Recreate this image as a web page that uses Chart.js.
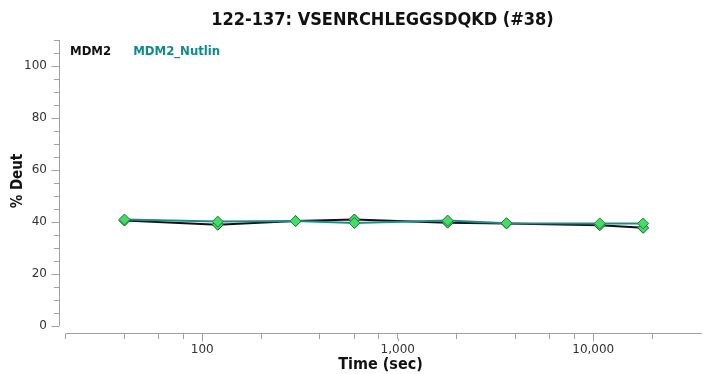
<!DOCTYPE html>
<html>
<head>
<meta charset="utf-8">
<script src="https://cdn.jsdelivr.net/npm/chart.js@4.4.0/dist/chart.umd.min.js"></script>
<style>
  body { margin: 0; background: #fff; }
</style>
</head>
<body>
<canvas id="myChart" width="710" height="374"></canvas>
<script>
// Uptake plot data

const chartTitle = "122-137: VSENRCHLEGGSDQKD (#38)";
const seriesNames = ["MDM2", "MDM2_Nutlin"];
const timePoints = [40, 120, 300, 600, 1800, 3600, 10800, 18000];
const mdm2 = [40.6, 39.0, 40.4, 41.0, 39.8, 39.5, 38.8, 37.8];
const mdm2Nutlin = [41.0, 40.2, 40.4, 39.7, 40.6, 39.6, 39.5, 39.5];

const xTickValues = [20, 40, 60, 80, 100, 200, 400, 600, 800, 1000, 2000, 4000, 6000, 8000, 10000, 20000];
const xLabelValues = [100, 1000, 10000];
const yTickValues = [0, 5, 10, 15, 20, 25, 30, 35, 40, 45, 50, 55, 60, 65, 70, 75, 80, 85, 90, 95, 100, 105, 110];
const yLabelValues = [0, 20, 40, 60, 80, 100];

const boldFont = "'DejaVu Sans Condensed', 'DejaVu Sans', sans-serif";
const axisGray = "#a0a0a0";

const toPoints = (ys) => timePoints.map((t, i) => ({ x: t, y: ys[i] }));

//title, legend, axis lines and longer major ticks
const decorations = {
  id: "decorations",
  beforeDatasetsDraw(chart) {
    const ctx = chart.ctx;
    const area = chart.chartArea;
    const x = chart.scales.x;
    const y = chart.scales.y;
    ctx.save();
    ctx.strokeStyle = axisGray;
    ctx.lineWidth = 1;
    ctx.beginPath();
    const yx = Math.round(area.left) + 0.5;
    ctx.moveTo(yx, y.getPixelForValue(0));
    ctx.lineTo(yx, y.getPixelForValue(110));
    const xy = Math.round(area.bottom) - 0.5;
    ctx.moveTo(x.getPixelForValue(20), xy);
    ctx.lineTo(area.right, xy);
    // major tick extensions
    yLabelValues.forEach((v) => {
      const py = Math.round(y.getPixelForValue(v)) + 0.5;
      ctx.moveTo(yx - 5, py);
      ctx.lineTo(yx - 8, py);
    });
    xLabelValues.forEach((v) => {
      const px = Math.round(x.getPixelForValue(v)) + 0.5;
      ctx.moveTo(px, xy + 5);
      ctx.lineTo(px, xy + 8);
    });
    ctx.stroke();
    ctx.restore();
  },
  afterDraw(chart) {
    const ctx = chart.ctx;
    const area = chart.chartArea;
    ctx.save();
    // title
    ctx.fillStyle = "#111";
    ctx.font = "bold 18px " + boldFont;
    ctx.textAlign = "center";
    ctx.textBaseline = "middle";
    ctx.fillText(chartTitle, (area.left + area.right) / 2 + 2, 20);

    // legend
    ctx.font = "bold 13px " + boldFont;
    ctx.textAlign = "left";
    let lx = area.left + 11;
    chart.data.datasets.forEach((ds) => {
      ctx.fillStyle = ds.legendColor;
      ctx.fillText(ds.label, lx, 52);
      lx += ctx.measureText(ds.label).width + 22;
    });

    // y title
    ctx.fillStyle = "#111";
    ctx.font = "bold 15px " + boldFont;
    ctx.translate(18, 181);
    ctx.rotate(-Math.PI / 2);
    ctx.textAlign = "center";
    ctx.fillText("% Deut", 0, 0);
    ctx.restore();
  },
};

new Chart("myChart", {
  type: "line",
  data: {
    datasets: [
      {
        label: seriesNames[0],
        data: toPoints(mdm2),
        borderColor: "#111111",
        legendColor: "#111111",
        borderWidth: 2,
        pointStyle: "rectRot",
        pointRadius: 5.5,
        pointBackgroundColor: "#45dc62",
        pointBorderColor: "#1d4f2a",
        pointBorderWidth: 1,
        tension: 0,
        order: 2,
      },
      {
        label: seriesNames[1],
        data: toPoints(mdm2Nutlin),
        borderColor: "#1f8c8c",
        legendColor: "#138a8a",
        borderWidth: 2,
        pointStyle: "rectRot",
        pointRadius: 5.5,
        pointBackgroundColor: "#45dc62",
        pointBorderColor: "#1f7a4a",
        pointBorderWidth: 1,
        tension: 0,
        order: 1,
      },
    ],
  },
  options: {
    responsive: false,
    animation: false,
    layout: { padding: { top: 40, right: 8, left: 0, bottom: 0 } },
    plugins: {
      legend: { display: false },
      title: { display: false },
      tooltip: { enabled: false },
    },
    scales: {
      x: {
        type: "logarithmic",
        min: 18.5,
        max: 36000,
        afterBuildTicks: (scale) => {
          scale.ticks = xTickValues.map((v) => ({ value: v }));
        },
        afterFit: (scale) => {
          scale.height = 40;
        },
        ticks: {
          autoSkip: false,
          maxRotation: 0,
          padding: 4,
          color: "#333",
          font: { family: "'DejaVu Sans'", size: 12 },
          callback: (value) =>
            xLabelValues.includes(value) ? value.toLocaleString("en-US") : "",
        },
        grid: {
          drawOnChartArea: false,
          tickLength: 5,
          tickColor: axisGray,
        },
        border: { display: false },
        title: {
          display: true,
          text: "Time (sec)",
          color: "#111",
          font: { family: boldFont, size: 16, weight: "bold" },
          padding: { top: 0, bottom: 0 },
        },
      },
      y: {
        min: -3,
        max: 110,
        afterBuildTicks: (scale) => {
          scale.ticks = yTickValues.map((v) => ({ value: v }));
        },
        afterFit: (scale) => {
          scale.width = 59;
        },
        ticks: {
          autoSkip: false,
          padding: 7,
          color: "#333",
          font: { family: "'DejaVu Sans'", size: 12 },
          callback: (value) => (yLabelValues.includes(value) ? `${value}` : ""),
        },
        grid: {
          drawOnChartArea: false,
          tickLength: 5,
          tickColor: axisGray,
        },
        border: { display: false },
      },
    },
  },
  plugins: [decorations],
});
</script>
</body>
</html>
